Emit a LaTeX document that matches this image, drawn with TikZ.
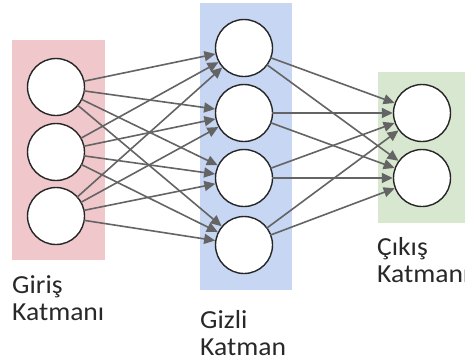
\documentclass[tikz,border=0pt]{standalone}
\usepackage{fontspec}
\setmainfont{Carlito}[FakeStretch=1.06]
\usetikzlibrary{arrows.meta}
\definecolor{inpink}{RGB}{240,200,203}
\definecolor{hidblue}{RGB}{198,214,243}
\definecolor{outgreen}{RGB}{216,232,208}
\definecolor{txtgray}{RGB}{40,40,40}
\definecolor{edgegray}{RGB}{100,100,100}
\tikzset{
  neuron/.style={circle,draw=black!85,line width=1.4pt,fill=white,minimum size=57pt,inner sep=0pt},
  conn/.style={draw=edgegray,line width=1.6pt,-{Triangle[length=11pt,width=10pt]},shorten <=-1pt},
  lbl/.style={anchor=north west,inner sep=0pt,text=txtgray,font=\fontsize{26}{27}\selectfont,align=left},
}
\begin{document}
\begin{tikzpicture}[x=1pt,y=-1pt]
\useasboundingbox (0,0) rectangle (465,360);
\fill[white] (0,0) rectangle (465,360);
\fill[inpink] (12,40) rectangle (105,260);
\fill[hidblue] (200,3) rectangle (292,290);
\fill[outgreen] (378,72) rectangle (470,223);
\node[neuron] (i1) at (56,87) {};
\node[neuron] (i2) at (56,152) {};
\node[neuron] (i3) at (56,216) {};
\node[neuron] (h1) at (244,48) {};
\node[neuron] (h2) at (244,113) {};
\node[neuron] (h3) at (244,178) {};
\node[neuron] (h4) at (244,245) {};
\node[neuron] (o1) at (422,113) {};
\node[neuron] (o2) at (422,178) {};
\foreach \a in {i1,i2,i3}{\foreach \b in {h1,h2,h3,h4}{\draw[conn] (\a) -- (\b);}}
\foreach \a in {h1,h2,h3,h4}{\foreach \b in {o1,o2}{\draw[conn] (\a) -- (\b);}}
\node[lbl] (l1) at (12,275) {Giriş\\Katmanı};
\node[lbl] (l2) at (200,310) {Gizli\\Katman};
\node[lbl] (l3) at (377,237) {Çıkış\\Katmanı};
\end{tikzpicture}
\end{document}
